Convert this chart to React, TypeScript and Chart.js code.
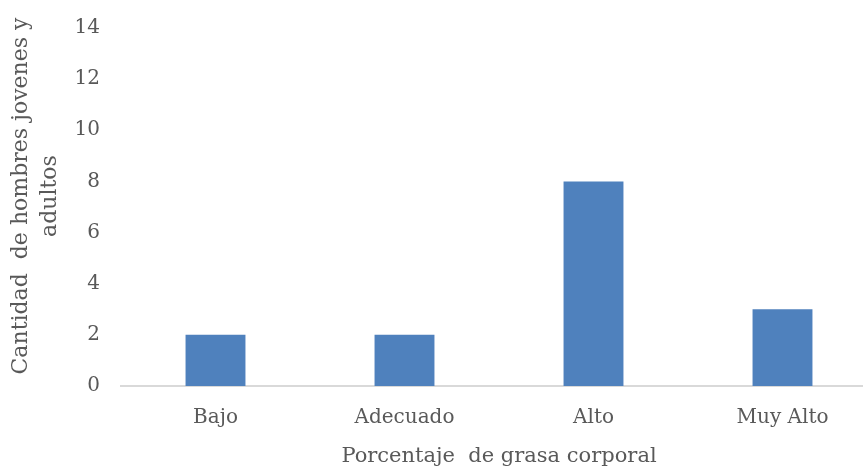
import React, { useEffect, useRef } from "react";
import { Chart, registerables } from "chart.js";

Chart.register(...registerables);

const categories = ["Bajo", "Adecuado", "Alto", "Muy Alto"];
const counts = [2, 2, 8, 3];
const yTitleLines = ["Cantidad  de hombres jovenes y", "adultos"];
const xTitle = "Porcentaje  de grasa corporal";

const FONT = "'DejaVu Serif', serif";
const TEXT = "#595959";
const BAR = "#4F81BD";

// Vertical axis title, drawn as two rotated lines left of the tick labels.
const yTitlePlugin = {
  id: "yTitle",
  afterDraw(chart: any) {
    const { ctx, chartArea } = chart;
    const cy = (chartArea.top + chartArea.bottom) / 2 - 11;
    ctx.save();
    ctx.fillStyle = TEXT;
    ctx.font = `22px ${FONT}`;
    ctx.textAlign = "center";
    ctx.textBaseline = "middle";
    const xs = [21, 50];
    yTitleLines.forEach((line, i) => {
      ctx.save();
      ctx.translate(xs[i], cy);
      ctx.rotate(-Math.PI / 2);
      ctx.fillText(line, 0, 0);
      ctx.restore();
    });
    ctx.restore();
  },
};

export default function App() {
  const ref = useRef<HTMLCanvasElement | null>(null);

  useEffect(() => {
    if (!ref.current) return;
    const chart = new Chart(ref.current, {
      type: "bar",
      data: {
        labels: categories,
        datasets: [
          {
            data: counts,
            backgroundColor: BAR,
            borderWidth: 0,
            barPercentage: 1,
            categoryPercentage: 0.317,
          },
        ],
      },
      options: {
        responsive: false,
        animation: false,
        layout: { padding: { top: 28, right: 13, bottom: 0, left: 0 } },
        plugins: { legend: { display: false }, tooltip: { enabled: false } },
        scales: {
          x: {
            grid: { display: false, drawTicks: false },
            border: { display: true, color: "#D9D9D9", width: 2 },
            ticks: { color: TEXT, font: { family: FONT, size: 20 }, padding: 20 },
            title: {
              display: true,
              text: xTitle,
              color: TEXT,
              font: { family: FONT, size: 21 },
              padding: { top: 0, bottom: 1 },
            },
            afterFit: (s: any) => {
              s.height = 84;
            },
          },
          y: {
            min: 0,
            max: 14,
            grid: { display: false, drawTicks: false },
            border: { display: false },
            ticks: { stepSize: 2, color: TEXT, font: { family: FONT, size: 20 }, padding: 21 },
            afterFit: (s: any) => {
              s.width = 121;
              s.paddingTop = 0;
              s.paddingBottom = 0;
            },
          },
        },
      },
      plugins: [yTitlePlugin],
    });
    return () => chart.destroy();
  }, []);

  return (
    <div style={{ position: "fixed", left: 0, top: 0, width: 890, height: 470, background: "#fff" }}>
      <canvas ref={ref} width={890} height={470} />
    </div>
  );
}
